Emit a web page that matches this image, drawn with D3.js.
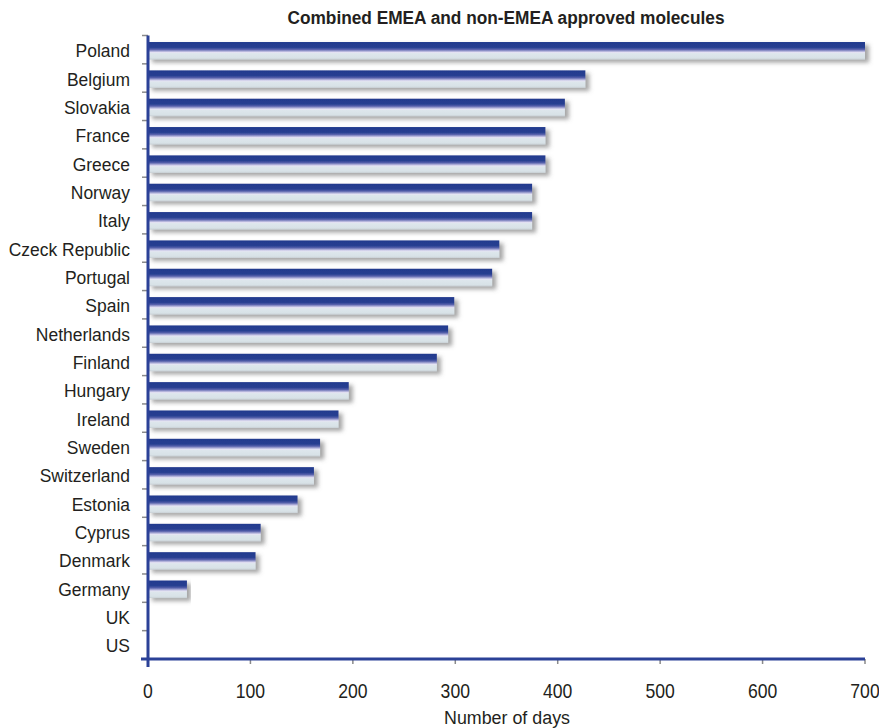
<!DOCTYPE html>
<html>
<head>
<meta charset="utf-8">
<script src="https://cdn.jsdelivr.net/npm/d3@7"></script>
<style>
  html, body { margin: 0; padding: 0; background: #fff; }
  svg { display: block; }
  text { font-family: "Liberation Sans", Arial, sans-serif; fill: #231f20; }
</style>
</head>
<body>
<svg id="chart" width="879" height="728"></svg>
<script>
// Days from approval to availability, by country
const countries = ["Poland", "Belgium", "Slovakia", "France", "Greece", "Norway", "Italy",
  "Czeck Republic", "Portugal", "Spain", "Netherlands", "Finland", "Hungary", "Ireland",
  "Sweden", "Switzerland", "Estonia", "Cyprus", "Denmark", "Germany", "UK", "US"];
const days = [700, 427, 407, 388, 388, 375, 375, 343, 336, 299, 293, 282, 196, 186,
  168, 162, 146, 110, 105, 38, 0, 0];
const xTicks = [0, 100, 200, 300, 400, 500, 600, 700];

const title = "Combined EMEA and non-EMEA approved molecules";
const xTitle = "Number of days";

const data = countries.map((c, i) => ({ country: c, value: days[i] }));

const svg = d3.select("#chart");
const margin = { left: 148, right: 14, top: 35.5, bottom: 69 };
const W = 879, H = 728;

const x = d3.scaleLinear().domain([0, 700]).range([margin.left, W - margin.right]);
const y = d3.scaleBand().domain(countries).range([margin.top, H - margin.bottom]).padding(0);
const bw = y.bandwidth();

// condensed lettering: horizontally squeezed text anchored at (px, py)
function squeeze(sel, px, py, sx) {
  return sel.attr("x", 0).attr("y", 0)
    .attr("transform", (d, i) => `translate(${typeof px === "function" ? px(d, i) : px},${typeof py === "function" ? py(d, i) : py}) scale(${sx},1)`);
}

const defs = svg.append("defs");
const grad = defs.append("linearGradient")
  .attr("id", "barGrad").attr("x1", 0).attr("y1", 0).attr("x2", 0).attr("y2", 1);
[
  [0, "#233a8e"], [0.3, "#273f91"], [0.42, "#5660ab"], [0.52, "#a9aad6"],
  [0.6, "#e6e4f4"], [0.66, "#dde6ec"], [0.9, "#d8e2e7"], [1, "#c9d0d5"]
].forEach(([o, c]) => grad.append("stop").attr("offset", o).attr("stop-color", c));

const shadow = defs.append("filter").attr("id", "shadow")
  .attr("x", "-5%").attr("y", "-50%").attr("width", "115%").attr("height", "220%");
shadow.append("feDropShadow")
  .attr("dx", 4).attr("dy", 3).attr("stdDeviation", 2)
  .attr("flood-color", "#6a6a6a").attr("flood-opacity", 0.6);

// Title
svg.append("text")
  .attr("text-anchor", "middle")
  .style("font-weight", "bold").style("font-size", "18px")
  .call(squeeze, 506, 24, 0.96)
  .text(title);

// Bars
svg.append("g").selectAll("rect")
  .data(data.filter(d => d.value > 0))
  .join("rect")
  .attr("x", x(0))
  .attr("y", d => y(d.country) + bw * 0.23)
  .attr("width", d => x(d.value) - x(0))
  .attr("height", bw * 0.62)
  .attr("fill", "url(#barGrad)")
  .attr("filter", "url(#shadow)");

// Y axis
const yAxis = svg.append("g");
yAxis.selectAll("line.tick")
  .data(d3.range(countries.length))
  .join("line")
  .attr("class", "tick")
  .attr("x1", x(0) - 6).attr("x2", x(0))
  .attr("y1", i => y(countries[i]))
  .attr("y2", i => y(countries[i]))
  .attr("stroke", "#8a8a8a").attr("stroke-width", 1.5);

yAxis.selectAll("text")
  .data(countries)
  .join("text")
  .attr("dy", "0.36em")
  .attr("text-anchor", "end")
  .style("font-size", "18.5px")
  .call(squeeze, 130, d => y(d) + bw / 2 + 1, 0.945)
  .text(d => d);

// X axis
const xAxis = svg.append("g");
xAxis.selectAll("line")
  .data(xTicks)
  .join("line")
  .attr("x1", d => x(d)).attr("x2", d => x(d))
  .attr("y1", H - margin.bottom).attr("y2", H - margin.bottom + 5)
  .attr("stroke", "#8a8a8a").attr("stroke-width", 1.5);

xAxis.selectAll("text")
  .data(xTicks)
  .join("text")
  .attr("text-anchor", "middle")
  .style("font-size", "20px")
  .call(squeeze, d => x(d), 698, 0.88)
  .text(d => d);

// Axis lines
svg.append("line")
  .attr("x1", x(0) - 7).attr("x2", x(700))
  .attr("y1", H - margin.bottom).attr("y2", H - margin.bottom)
  .attr("stroke", "#2b4197").attr("stroke-width", 3);
svg.append("line")
  .attr("x1", x(0)).attr("x2", x(0))
  .attr("y1", margin.top).attr("y2", H - margin.bottom + 8)
  .attr("stroke", "#2b4197").attr("stroke-width", 3);

svg.append("text")
  .attr("text-anchor", "middle")
  .style("font-size", "19px")
  .call(squeeze, 507, 724, 0.94)
  .text(xTitle);
</script>
</body>
</html>
